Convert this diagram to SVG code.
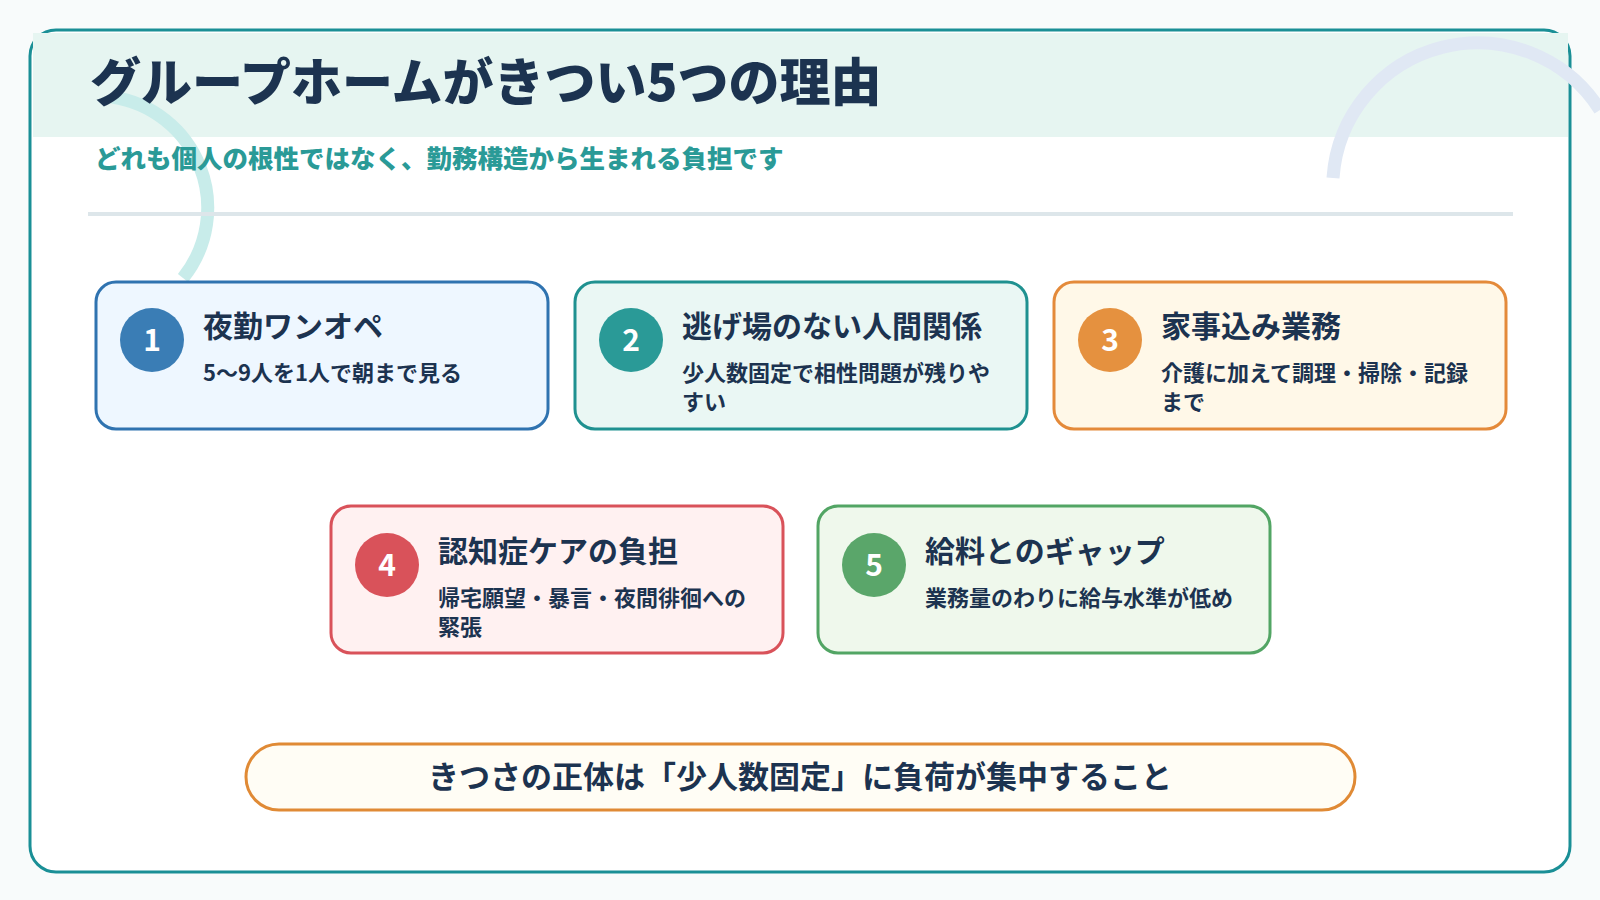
<svg xmlns="http://www.w3.org/2000/svg" width="1600" height="900" viewBox="0 0 1600 900">
<style>
text{font-family:"Noto Sans CJK JP","Noto Sans",sans-serif;font-weight:700}
.t{fill:#1c3350;font-size:30px}
.s{fill:#1c3350;font-size:22px}
.n{fill:#fff;font-size:30px;text-anchor:middle}
.card{stroke-width:3}
</style>
<rect width="1600" height="900" fill="#f8fbfb"/>
<rect x="30" y="30" width="1540" height="842" rx="26" fill="#fff" stroke="#1a8f96" stroke-width="3"/>
<rect x="33" y="33" width="1535" height="104" fill="#e6f5f1"/>
<g id="deco" fill="none" stroke-width="13">
<path d="M112 97 A112 112 0 0 1 183 278" stroke="#c8ecea"/>
<path d="M1333 178 A145 145 0 0 1 1600 110" stroke="#e0e8f4"/>
</g>
<text x="90" y="101" style="font-size:51px;fill:#1c3350;font-weight:900">グループホームがきつい5つの理由</text>
<text x="95" y="168" style="font-size:25.5px;fill:#2a9a97;font-weight:900">どれも個人の根性ではなく、勤務構造から生まれる負担です</text>
<line x1="88" y1="214" x2="1513" y2="214" stroke="#dde6ea" stroke-width="4"/>
<g id="n1"><rect class="card" x="96" y="282" width="452" height="147" rx="20" fill="#eef7ff" stroke="#2f73b0"/><circle cx="152" cy="340" r="32" fill="#3a7db5"/><text class="n" x="152" y="351">1</text><text class="t" x="203" y="337">夜勤ワンオペ</text><text class="s" x="203" y="381">5〜9人を1人で朝まで見る</text></g>
<g id="n2"><rect class="card" x="575" y="282" width="452" height="147" rx="20" fill="#eaf7f4" stroke="#1f9190"/><circle cx="631" cy="340" r="32" fill="#2a9a97"/><text class="n" x="631" y="351">2</text><text class="t" x="682" y="337">逃げ場のない人間関係</text><text class="s" x="682" y="381">少人数固定で相性問題が残りや</text><text class="s" x="682" y="410">すい</text></g>
<g id="n3"><rect class="card" x="1054" y="282" width="452" height="147" rx="20" fill="#fff8e8" stroke="#e48a3a"/><circle cx="1110" cy="340" r="32" fill="#e5913f"/><text class="n" x="1110" y="351">3</text><text class="t" x="1161" y="337">家事込み業務</text><text class="s" x="1161" y="381">介護に加えて調理・掃除・記録</text><text class="s" x="1161" y="410">まで</text></g>
<g id="n4"><rect class="card" x="331" y="506" width="452" height="147" rx="20" fill="#fff1f1" stroke="#d9525a"/><circle cx="387" cy="565" r="32" fill="#d9525a"/><text class="n" x="387" y="576">4</text><text class="t" x="438" y="562">認知症ケアの負担</text><text class="s" x="438" y="606">帰宅願望・暴言・夜間徘徊への</text><text class="s" x="438" y="635">緊張</text></g>
<g id="n5"><rect class="card" x="818" y="506" width="452" height="147" rx="20" fill="#eff8ec" stroke="#52a564"/><circle cx="874" cy="565" r="32" fill="#5aa66a"/><text class="n" x="874" y="576">5</text><text class="t" x="925" y="562">給料とのギャップ</text><text class="s" x="925" y="606">業務量のわりに給与水準が低め</text></g>
<g id="connectors"/>
<g id="banner"><rect x="246" y="744" width="1109" height="66" rx="33" fill="#fffdf5" stroke="#e08a35" stroke-width="3"/><text x="800" y="788" text-anchor="middle" style="font-size:31px;fill:#1c3350">きつさの正体は「少人数固定」に負荷が集中すること</text></g>
</svg>
